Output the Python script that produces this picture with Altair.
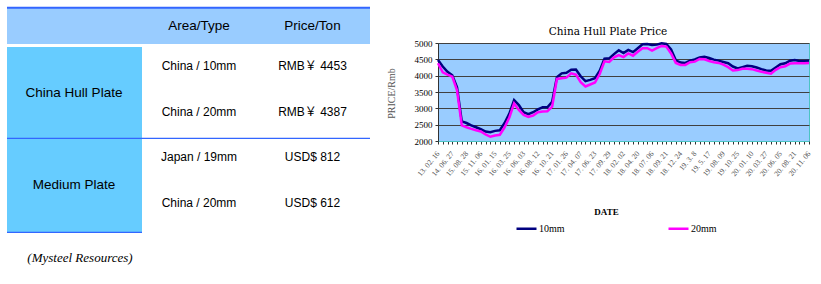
import json
import altair as alt
import pandas as pd

# ---------------- table content ----------------
header_cols = ["Area/Type", "Price/Ton"]
groups = ["China Hull Plate", "Medium Plate"]
types = ["China / 10mm", "China / 20mm", "Japan / 19mm", "China / 20mm"]
prices = ["RMB\uffe5 4453", "RMB\uffe5 4387", "USD$ 812", "USD$ 612"]
source_note = "(Mysteel Resources)"

# ---------------- chart content ----------------
chart_title = "China Hull Plate Price"
date_labels = [
    "13. 02. 16", "14. 06. 27", "15. 08. 28", "15. 11. 06", "16. 01. 15",
    "16. 03. 25", "16. 06. 03", "16. 08. 12", "16. 10. 21", "17. 01. 26",
    "17. 04. 07", "17. 06. 23", "17. 09. 29", "18. 02. 02", "18. 04. 20",
    "18. 07. 06", "18. 09. 21", "18. 12. 24", "19. 3. 8", "19. 5. 17",
    "19. 08. 09", "19. 10. 25", "20. 01. 10", "20. 03. 27", "20. 06. 05",
    "20. 08. 21", "20. 11. 06",
]
series_names = ["10mm", "20mm"]
price_10mm = [
    4480, 4280, 4120, 4010, 3640, 2600, 2550, 2480, 2420, 2360,
    2290, 2270, 2310, 2330, 2550, 2840, 3250, 3100, 2880, 2820,
    2880, 2970, 3030, 3030, 3200, 3950, 4070, 4090, 4180, 4190,
    3980, 3830, 3870, 3920, 4150, 4520, 4530, 4660, 4780, 4690,
    4790, 4720, 4840, 4960, 4970, 4940, 4950, 4990, 4970, 4800,
    4470, 4400, 4390, 4460, 4500, 4560, 4580, 4540, 4490, 4460,
    4420, 4380, 4280, 4220, 4260, 4300, 4290, 4250, 4200, 4160,
    4150, 4250, 4350, 4380, 4460, 4480, 4450, 4450, 4453,
]
price_20mm = [
    4380, 4100, 4030, 3970, 3550, 2480, 2420, 2370, 2330, 2290,
    2200, 2130, 2170, 2190, 2420, 2720, 3150, 2950, 2800, 2740,
    2780, 2880, 2900, 2910, 3050, 3900, 3920, 3940, 4070, 4030,
    3800, 3670, 3730, 3790, 4050, 4440, 4420, 4560, 4630, 4570,
    4680, 4610, 4730, 4840, 4840, 4770, 4840, 4910, 4890, 4680,
    4390, 4330, 4330, 4410, 4430, 4510, 4500, 4450, 4410, 4390,
    4340, 4260, 4160, 4170, 4210, 4210, 4200, 4160, 4120, 4090,
    4060, 4180, 4260, 4290, 4370, 4380, 4380, 4380, 4387,
]

# ---------------- layout ----------------
PAD_L, PAD_T, W, H = 438, 43, 371, 98
TOTAL_W, TOTAL_H = 821, 284

# table layout (page pixel units)
T_L, T_R, T_SPLIT = 7, 370, 142
HEAD_TOP, HEAD_BOT, BODY_TOP, BODY_MID, BODY_BOT = 8, 44, 47, 138.3, 232.3
COL_X = [199, 312.5]
LEFT_X = 74
ROW_Y = [65.7, 111.7, 156.7, 203.3]
GROUP_Y = [92.7, 185]
HEAD_Y = 26
NOTE_X, NOTE_Y = 80, 258.3
TITLE_X, TITLE_Y = 608, 31.5

px = alt.Scale(domain=[PAD_L, PAD_L + W], nice=False, zero=False)
py = alt.Scale(domain=[PAD_T, PAD_T + H], nice=False, zero=False, reverse=True)

SANS = "Liberation Sans, Arial, Noto Sans CJK SC"
SERIF = "Liberation Serif"

rects = pd.DataFrame({
    "x": [T_L, T_L], "x2": [T_R, T_SPLIT],
    "y": [HEAD_TOP, BODY_TOP], "y2": [HEAD_BOT, BODY_BOT],
    "fill": ["#99ccff", "#66ccff"],
})
rules = pd.DataFrame({
    "x": [T_L, T_L, T_L], "x2": [T_R, T_R, T_SPLIT],
    "y": [7.7, BODY_MID, BODY_BOT], "w": [2, 1.2, 1.2],
})
head_df = pd.DataFrame({"x": COL_X, "y": [HEAD_Y, HEAD_Y], "t": header_cols})
group_df = pd.DataFrame({"x": [LEFT_X] * 2, "y": GROUP_Y, "t": groups})
body_df = pd.DataFrame({
    "x": [COL_X[0]] * 4 + [COL_X[1]] * 4,
    "y": ROW_Y + ROW_Y,
    "t": types + prices,
})
note_df = pd.DataFrame({"x": [NOTE_X], "y": [NOTE_Y], "t": [source_note]})
title_df = pd.DataFrame({"x": [TITLE_X], "y": [TITLE_Y], "t": [chart_title]})

PX = alt.X("x:Q", scale=px, axis=None)
PY = alt.Y("y:Q", scale=py, axis=None)

rect_layer = alt.Chart(rects).mark_rect().encode(
    x=PX, x2="x2:Q", y=PY, y2="y2:Q",
    color=alt.Color("fill:N", scale=None),
)
rule_layer = alt.Chart(rules).mark_rule(color="#3366ff").encode(
    x=PX, x2="x2:Q", y=PY,
    strokeWidth=alt.StrokeWidth("w:Q", scale=None),
)
head_layer = alt.Chart(head_df).mark_text(
    font=SANS, fontSize=13.5, color="black", baseline="middle", align="center"
).encode(x=PX, y=PY, text="t:N")
group_layer = alt.Chart(group_df).mark_text(
    font=SANS, fontSize=13.5, color="black", baseline="middle", align="center"
).encode(x=PX, y=PY, text="t:N")
body_layer = alt.Chart(body_df).mark_text(
    font=SANS, fontSize=12, color="black", baseline="middle", align="center"
).encode(x=PX, y=PY, text="t:N")
note_layer = alt.Chart(note_df).mark_text(
    font=SERIF, fontSize=13, fontStyle="italic", color="black", baseline="middle", align="center"
).encode(x=PX, y=PY, text="t:N")
title_layer = alt.Chart(title_df).mark_text(
    font="DejaVu Serif", fontSize=10.5, color="black", baseline="middle", align="center"
).encode(x=PX, y=PY, text="t:N")

# ---------------- line chart ----------------
n = len(price_10mm)
lines_df = pd.DataFrame({
    "idx": list(range(n)) * 2,
    "series": [series_names[0]] * n + [series_names[1]] * n,
    "price": price_10mm + price_20mm,
})

label_expr = (
    "datum.value % 3 == 0 ? " + json.dumps(date_labels) + "[datum.value / 3] : ''"
)

line_layer = alt.Chart(lines_df).mark_line(strokeWidth=2.5).encode(
    x=alt.X(
        "idx:Q",
        scale=alt.Scale(domain=[0, n - 1], nice=False, zero=False),
        axis=alt.Axis(
            values=list(range(n)), labelExpr=label_expr, labelAngle=310,
            labelAlign="right", labelBaseline="middle", labelFont=SERIF,
            labelFontSize=7.5, labelColor="#555", labelPadding=8,
            labelOverlap=False, labelFlush=False, tickSize=3, tickColor="#333",
            domainColor="#4cc3c3", grid=False, title="DATE", titleFont=SERIF,
            titleFontSize=9, titleFontWeight="bold", titleColor="black",
            titleX=168, titleY=70, titleBaseline="middle", titleAlign="center",
        ),
    ),
    y=alt.Y(
        "price:Q",
        scale=alt.Scale(domain=[2000, 5000], nice=False, zero=False),
        axis=alt.Axis(
            values=[2000, 2500, 3000, 3500, 4000, 4500, 5000], format="d",
            labelFont=SERIF, labelFontSize=9, labelColor="black",
            labelPadding=3, tickSize=3, tickColor="#333", grid=True,
            gridColor="#404040", gridWidth=1, domainColor="#333",
            title="PRICE/Rmb", titleFont=SERIF, titleFontSize=10,
            titleFontWeight="normal", titleColor="#555", titleAngle=270,
            titleX=-47, titleY=50, titleBaseline="middle", titleAlign="center",
        ),
    ),
    color=alt.Color(
        "series:N",
        scale=alt.Scale(domain=series_names, range=["#000080", "#ff00ff"]),
        legend=alt.Legend(
            title=None, orient="none", legendX=77, legendY=174,
            direction="horizontal", symbolType="stroke", symbolSize=400,
            symbolStrokeWidth=2.5, labelFont=SERIF, labelFontSize=10,
            labelColor="black", columnPadding=98, labelOffset=1,
        ),
    ),
)

chart = alt.layer(
    line_layer, rect_layer, rule_layer, head_layer, group_layer, body_layer,
    note_layer, title_layer
).resolve_scale(
    x="independent", y="independent", color="independent", strokeWidth="independent"
).properties(
    width=W, height=H,
    padding={"left": PAD_L, "top": PAD_T, "right": TOTAL_W - PAD_L - W,
             "bottom": TOTAL_H - PAD_T - H},
    autosize=alt.AutoSizeParams(type="none"),
    background="white",
).configure_view(fill="#99ccff", stroke="#4cc3c3", strokeWidth=1)

chart.save("out.html", embed_options={"renderer": "svg", "actions": False})
